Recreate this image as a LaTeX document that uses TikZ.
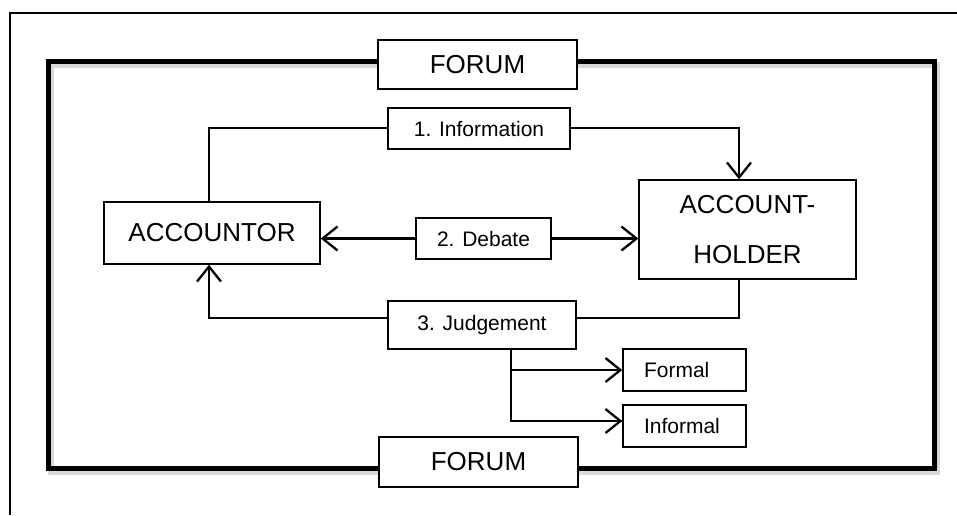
\documentclass[tikz,border=0pt]{standalone}
\usepackage{fontspec}
\setmainfont{Liberation Sans}
\usetikzlibrary{arrows.meta}
\begin{document}
\begin{tikzpicture}[x=1pt,y=-1pt,
  box/.style={draw, line width=1.4pt, fill=white, inner sep=0pt},
  bigtxt/.style={font=\fontsize{26}{30}\selectfont},
  smalltxt/.style={font=\fontsize{21}{25}\selectfont},
  conn/.style={line width=1.6pt},
  arr/.style={line width=2.3pt, -{Straight Barb[length=15pt,width=24pt,line width=2.3pt]}},
  frameline/.style={line width=5pt, line join=miter},
  shadowline/.style={line width=6pt, draw=black!25, opacity=0.6, line join=miter}]
\useasboundingbox (0,0) rectangle (957,515);
% page frame
\draw[line width=1.3pt] (10,515) -- (10,13) -- (957,13);
% forum frame with shadow
\draw[shadowline] (51,65) rectangle (937,472);
\draw[frameline] (48,61) rectangle (934,468);
% nodes
\node[box, bigtxt, minimum width=199pt, minimum height=49pt] (forumtop) at (477.5,64.5) {FORUM};
\node[box, bigtxt, minimum width=199pt, minimum height=50pt] (forumbot) at (478.5,462) {FORUM};
\node[box, smalltxt, minimum width=182pt, minimum height=41pt] (info) at (479,128.5) {1. Information};
\node[box, bigtxt, minimum width=216pt, minimum height=62pt] (accountor) at (212,233) {ACCOUNTOR};
\node[box, bigtxt, minimum width=217pt, minimum height=99pt, align=center, font=\fontsize{26}{50}\selectfont] (holder) at (747.5,229.5) {ACCOUNT-\\HOLDER};
\node[box, smalltxt, minimum width=135pt, minimum height=41pt] (debate) at (483.5,238.5) {2. Debate};
\node[box, smalltxt, minimum width=188pt, minimum height=48pt] (judge) at (482,325) {3. Judgement};
\node[box, smalltxt, minimum height=42pt, inner xsep=21pt, text width=81pt, align=left] (formal) at (684.5,370) {Formal};
\node[box, smalltxt, minimum height=42pt, inner xsep=21pt, text width=81pt, align=left] (informal) at (684.5,426) {Informal};
% connectors
\draw[conn] ([xshift=-3pt]accountor.north) |- ([yshift=0.5pt]info.west);
\draw[arr] ([yshift=0.5pt]info.east) -| ([xshift=-8.5pt]holder.north);
\draw[arr] (debate.west) -- (debate.west -| accountor.east);
\draw[arr] (debate.east) -- (debate.east -| holder.west);
\draw[arr] ([yshift=7pt]judge.west) -| ([xshift=-3pt]accountor.south);
\draw[conn] ([yshift=7pt]judge.east) -| ([xshift=-8.5pt]holder.south);
\coordinate (jb) at ([xshift=29pt]judge.south);
\draw[conn] (jb) |- ([yshift=5pt]informal.west);
\draw[arr] ([yshift=5pt]informal.west -| jb) -- ([yshift=5pt]informal.west);
\draw[arr] (formal.west -| jb) -- (formal.west);
\end{tikzpicture}
\end{document}
